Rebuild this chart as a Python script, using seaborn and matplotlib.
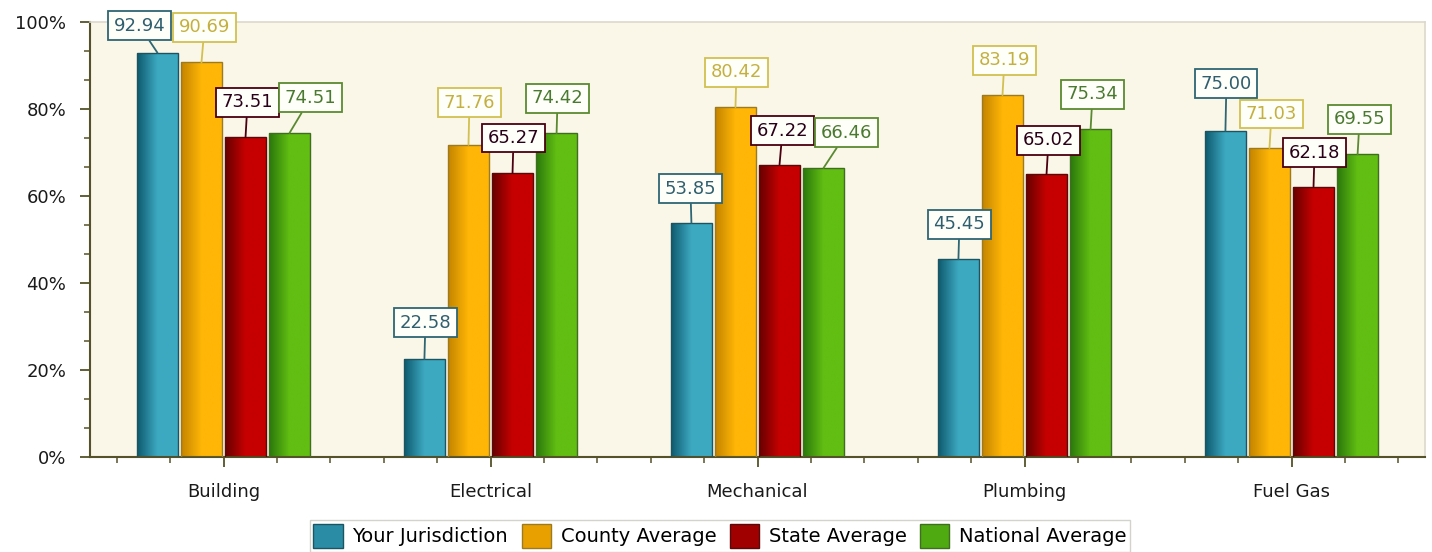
import numpy as np
import pandas as pd
import matplotlib
matplotlib.use('Agg')
import matplotlib.pyplot as plt
import seaborn as sns
from matplotlib.colors import LinearSegmentedColormap
from matplotlib.ticker import AutoMinorLocator, FuncFormatter
from matplotlib.patches import Patch

# data
categories = ['Building', 'Electrical', 'Mechanical', 'Plumbing', 'Fuel Gas']
series = ['Your Jurisdiction', 'County Average', 'State Average', 'National Average']
your_jurisdiction = [92.94, 22.58, 53.85, 45.45, 75.00]
county_average = [90.69, 71.76, 80.42, 83.19, 71.03]
state_average = [73.51, 65.27, 67.22, 65.02, 62.18]
national_average = [74.51, 74.42, 66.46, 75.34, 69.55]

rows = []
for name, vals in zip(series, [your_jurisdiction, county_average, state_average, national_average]):
    for cat, v in zip(categories, vals):
        rows.append({'category': cat, 'series': name, 'value': v})
df = pd.DataFrame(rows)

# colours: (dark, light) for bar gradients, plus solid legend / label colours
grad = {
    'Your Jurisdiction': ('#0E5A6E', '#3DA9C1'),
    'County Average': ('#C48400', '#FFB606'),
    'State Average': ('#680000', '#C60000'),
    'National Average': ('#2A780C', '#62BE12'),
}
solid = {
    'Your Jurisdiction': '#2A8CA5',
    'County Average': '#E8A000',
    'State Average': '#A00000',
    'National Average': '#4EAA10',
}
bar_edge = {
    'Your Jurisdiction': '#1C5462',
    'County Average': '#9C7A20',
    'State Average': '#5A0A0A',
    'National Average': '#3E6E1E',
}
label_edge = {
    'Your Jurisdiction': '#2E6673',
    'County Average': '#D2C050',
    'State Average': '#4A0010',
    'National Average': '#5A8A30',
}
label_text = {
    'Your Jurisdiction': '#2F5F6E',
    'County Average': '#C4B040',
    'State Average': '#2A0018',
    'National Average': '#4A7A30',
}

# label offsets in pixels (dx, dy) from bar top, to avoid overlap like the original
label_offsets = {
    'Your Jurisdiction': [(-18, 27), (1, 36), (-1, 34), (1, 35), (1, 47)],
    'County Average': [(3, 35), (1, 42), (1, 35), (2, 35), (2, 34)],
    'State Average': [(2, 35), (1, 35), (3, 34), (2, 34), (1, 34)],
    'National Average': [(21, 35), (1, 35), (23, 35), (2, 35), (2, 35)],
}

plt.rcParams['font.family'] = ['DejaVu Sans']
fig = plt.figure(figsize=(14.32, 5.52), dpi=100)
ax = fig.add_axes([90 / 1432, 1 - 457 / 552, 1335 / 1432, 435 / 552])
ax.set_facecolor('#FAF6E8')

sns.barplot(data=df, x='category', y='value', hue='series', order=categories,
            hue_order=series, palette=solid, width=0.66, gap=0.07,
            saturation=1, legend=False, ax=ax)

for name, cont, vals in zip(series, ax.containers,
                            [your_jurisdiction, county_average, state_average, national_average]):
    cmap = LinearSegmentedColormap.from_list(name, [grad[name][0], grad[name][1], grad[name][1]])
    g = np.linspace(0, 1, 64).reshape(1, -1)
    for bar, v, off in zip(cont, vals, label_offsets[name]):
        x0, w, h = bar.get_x(), bar.get_width(), bar.get_height()
        im = ax.imshow(g, cmap=cmap, extent=(x0, x0 + w, 0, h), aspect='auto',
                       zorder=2, interpolation='bilinear')
        im.set_clip_path(bar)
        bar.set_facecolor('none')
        bar.set_edgecolor(bar_edge[name])
        bar.set_linewidth(1.0)
        bar.set_zorder(3)
        ax.annotate(f'{v:.2f}', xy=(x0 + w / 2, h), xytext=off,
                    textcoords='offset pixels', ha='center', va='center',
                    fontsize=13, color=label_text[name], zorder=5,
                    bbox=dict(boxstyle='square,pad=0.3', fc='#FFFFFA',
                              ec=label_edge[name], lw=1.3),
                    arrowprops=dict(arrowstyle='-', color=label_edge[name],
                                    lw=1.3, shrinkA=0, shrinkB=0))

ax.set_xlim(-0.5, 4.5)
ax.set_ylim(0, 100)
ax.set_xlabel('')
ax.set_ylabel('')
ax.set_yticks([0, 20, 40, 60, 80, 100])
ax.yaxis.set_major_formatter(FuncFormatter(lambda v, p: f'{v:.0f}%'))
ax.yaxis.set_minor_locator(AutoMinorLocator(3))
ax.set_xticks(range(len(categories)))
ax.set_xticklabels(categories)
ax.set_xticks(np.arange(-0.4, 4.5, 0.2), minor=True)

axis_col = '#55522A'
for s in ['left', 'bottom']:
    ax.spines[s].set_color(axis_col)
    ax.spines[s].set_linewidth(1.5)
for s in ['top', 'right']:
    ax.spines[s].set_color('#DCD8CC')
    ax.spines[s].set_linewidth(1.2)
ax.tick_params(axis='both', which='major', length=7, width=1.3, color=axis_col,
               labelsize=13, labelcolor='#1A1A1A')
ax.tick_params(axis='both', which='minor', length=4, width=1.1, color=axis_col)
ax.tick_params(axis='y', which='major', pad=10)
ax.tick_params(axis='x', which='major', pad=12)
ax.tick_params(axis='x', which='minor', length=4, direction='out')

handles = [Patch(facecolor=solid[n], edgecolor=bar_edge[n], label=n) for n in series]
fig.legend(handles=handles, loc='center', bbox_to_anchor=(720 / 1432, 1 - 536 / 552),
           ncol=4, fontsize=14, frameon=True, fancybox=False, edgecolor='#C8C8C0',
           handlelength=1.5, handleheight=1.5, handletextpad=0.5, columnspacing=0.7,
           borderpad=0.2, borderaxespad=0)

fig.savefig('out.png', dpi=100)
